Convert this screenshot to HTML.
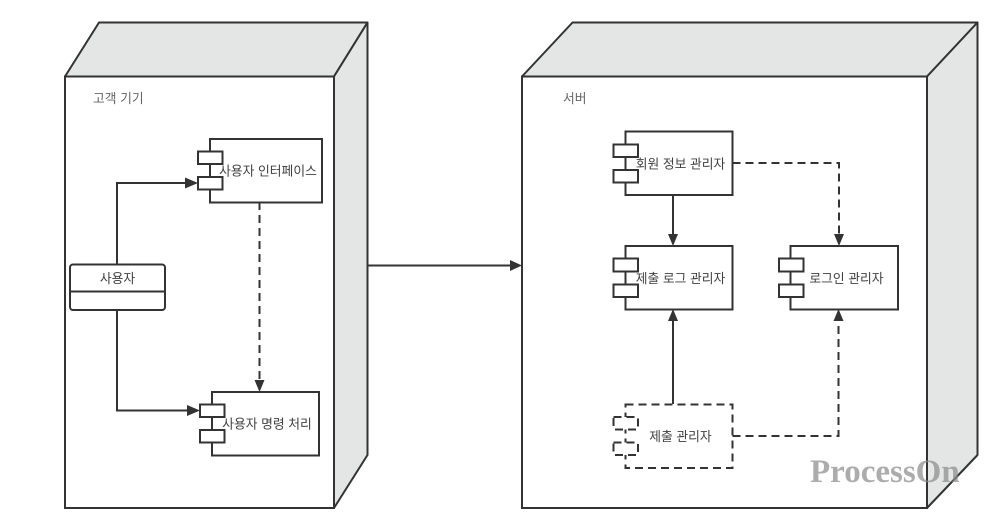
<!DOCTYPE html>
<html lang="ko">
<head>
<meta charset="utf-8">
<style>
html,body{margin:0;padding:0;background:#fff;width:1000px;height:531px;overflow:hidden}
svg{display:block}
text{font-family:"Liberation Sans","Noto Sans CJK KR",sans-serif;font-size:12.8px;fill:#3f3f3f}
.face{fill:#fff;stroke:#333;stroke-width:2}
.side{fill:#e4e5e5;stroke:#333;stroke-width:2;stroke-linejoin:round}
.l{fill:none;stroke:#333;stroke-width:2}
.d{fill:none;stroke:#333;stroke-width:2;stroke-dasharray:8 5}
.a{fill:#333;stroke:none}
.m{text-anchor:middle}
</style>
</head>
<body>
<svg width="1000" height="531" viewBox="0 0 1000 531" xmlns="http://www.w3.org/2000/svg">
<rect width="1000" height="531" fill="#fff"/>

<!-- left node -->
<polygon class="side" points="65,76.5 99,22.5 367.5,22.5 334,76.5"/>
<polygon class="side" points="334,76.5 367.5,22.5 367.5,455 334,508"/>
<rect class="face" x="65" y="76.5" width="269" height="431.5"/>
<text x="93" y="103" style="fill:#666">고객 기기</text>

<!-- right node -->
<polygon class="side" points="522,76.5 572.5,22.5 977.5,22.5 927,76.5"/>
<polygon class="side" points="927,76.5 977.5,22.5 977.5,455 927,508"/>
<rect class="face" x="522" y="76.5" width="405" height="431.5"/>
<text x="563" y="103" style="fill:#666">서버</text>

<!-- connectors -->
<path class="l" d="M368 265.5H512"/>
<polygon class="a" points="510,260 522,265.5 510,271"/>

<path class="l" d="M117 264V183H188"/>
<polygon class="a" points="185,177.5 198,183 185,188.5"/>
<path class="l" d="M117 310V410.5H190"/>
<polygon class="a" points="187,405 200,410.5 187,416"/>
<path class="d" d="M259.5 202V381"/>
<polygon class="a" points="254.5,380 264.5,380 259.5,392"/>

<path class="l" d="M673 195V236"/>
<polygon class="a" points="668,234 678,234 673,246"/>
<path class="d" d="M732.5 163H839V236"/>
<polygon class="a" points="834,234 844,234 839,246"/>
<path class="l" d="M673 404V319"/>
<polygon class="a" points="668,321 678,321 673,309"/>
<path class="d" d="M732.5 436H838.5V319"/>
<polygon class="a" points="833.5,321 843.5,321 838.5,309"/>

<!-- user -->
<rect class="face" x="70" y="264.5" width="95" height="45.5" rx="3"/>
<path class="l" d="M70 291.5H165"/>
<text class="m" x="117.5" y="283">사용자</text>

<!-- UI component -->
<rect class="face" x="210" y="139" width="112" height="63.5"/>
<rect class="face" x="198" y="151.5" width="24.5" height="12.5"/>
<rect class="face" x="198" y="177" width="24.5" height="12.5"/>
<text class="m" x="268" y="175.5">사용자 인터페이스</text>

<!-- command component -->
<rect class="face" x="212" y="392" width="107" height="63.5"/>
<rect class="face" x="200" y="404.5" width="24.5" height="12.5"/>
<rect class="face" x="200" y="430" width="24.5" height="12.5"/>
<text class="m" x="267" y="428.5">사용자 명령 처리</text>

<!-- member -->
<rect class="face" x="625.5" y="131.5" width="107" height="63.5"/>
<rect class="face" x="613.5" y="144.5" width="24.5" height="12.5"/>
<rect class="face" x="613.5" y="170" width="24.5" height="12.5"/>
<text class="m" x="680.5" y="168.5">회원 정보 관리자</text>

<!-- log -->
<rect class="face" x="625.5" y="246" width="107" height="63.5"/>
<rect class="face" x="613.5" y="258.5" width="24.5" height="13"/>
<rect class="face" x="613.5" y="284.5" width="24.5" height="12.5"/>
<text class="m" x="680.5" y="283">제출 로그 관리자</text>

<!-- login -->
<rect class="face" x="790.5" y="246" width="107.5" height="63.5"/>
<rect class="face" x="779" y="258.5" width="24.5" height="13"/>
<rect class="face" x="779" y="284.5" width="24.5" height="12.5"/>
<text class="m" x="846.5" y="283">로그인 관리자</text>

<!-- submit (dashed) -->
<rect class="d" style="fill:#fff" x="625.5" y="404.5" width="107" height="63.5"/>
<rect class="d" style="fill:#fff" x="613.5" y="417" width="24.5" height="12.5"/>
<rect class="d" style="fill:#fff" x="613.5" y="442.5" width="24.5" height="12.5"/>
<text class="m" x="680.5" y="441">제출 관리자</text>

<!-- watermark -->
<text x="810" y="482" style="font-family:'Liberation Serif',serif;font-weight:bold;font-size:33px;fill:#8c8c8c;fill-opacity:.72">ProcessOn</text>
</svg>
</body>
</html>
